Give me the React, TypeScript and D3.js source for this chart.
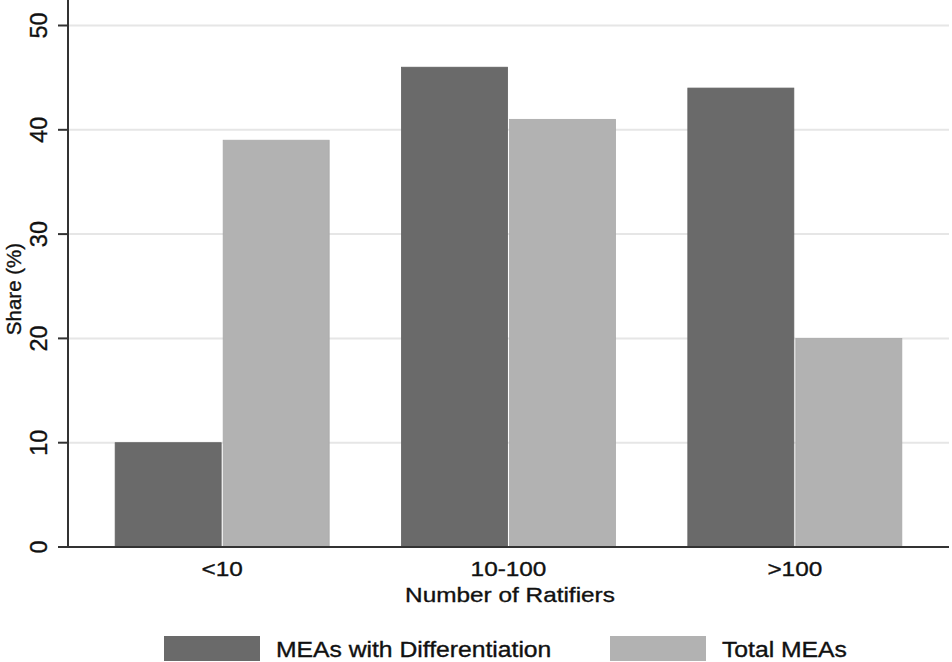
import React from "react";
import * as d3 from "d3";

const categories = ["<10", "10-100", ">100"];
const seriesNames = ["MEAs with Differentiation", "Total MEAs"];
const withDiff = [10, 46, 44];
const totalMEAs = [39, 41, 20];
const yTicks = [0, 10, 20, 30, 40, 50];
const colors = ["#6a6a6a", "#b2b2b2"];

const W = 952;
const H = 662;
const plot = { left: 68, right: 949, top: 25.5, bottom: 547 };
const FONT = "'Liberation Sans', Arial, Helvetica, sans-serif";
const SX = 1.16;
const TXT = "#111";
const TSTROKE = 0.35;

export default function App() {
  const x = d3
    .scaleBand<string>()
    .domain(categories)
    .range([plot.left + 11, plot.right - 11])
    .paddingInner(0)
    .paddingOuter(0);
  const y = d3.scaleLinear().domain([0, 50]).range([plot.bottom, plot.top]);
  const barW = 106;
  const gap = 2;
  const series = [withDiff, totalMEAs];

  const hText = (tx: number, ty: number, s: string, size: number, anchor: string, key?: string) => (
    <g key={key} transform={`translate(${tx},${ty}) scale(${SX},1)`}>
      <text
        x={0}
        y={0}
        fontSize={size}
        textAnchor={anchor}
        fill={TXT}
        stroke={TXT}
        strokeWidth={TSTROKE}
        fontFamily={FONT}
      >
        {s}
      </text>
    </g>
  );

  return (
    <svg
      width={W}
      height={H}
      style={{ position: "absolute", left: 0, top: 0, background: "#fff" }}
    >
      <rect x={0} y={0} width={W} height={H} fill="#fff" />
      {/* gridlines */}
      {yTicks.filter((t) => t > 0).map((t) => (
        <line
          key={"g" + t}
          x1={plot.left}
          x2={plot.right}
          y1={y(t)}
          y2={y(t)}
          stroke="#e6e6e6"
          strokeWidth={2}
        />
      ))}
      {/* bars */}
      {categories.map((c, i) => {
        const bw = x.bandwidth();
        const start = (x(c) as number) + (bw - (2 * barW + gap)) / 2;
        return series.map((s, j) => (
          <rect
            key={c + j}
            x={start + j * (barW + gap)}
            y={y(s[i])}
            width={barW}
            height={y(0) - y(s[i])}
            fill={colors[j]}
            stroke={j === 0 ? "#626262" : "#aaaaaa"}
            strokeWidth={0.8}
          />
        ));
      })}
      {/* axes */}
      <line x1={plot.left} x2={plot.left} y1={0} y2={plot.bottom + 1} stroke="#333" strokeWidth={2} />
      <line x1={plot.left - 1} x2={plot.right} y1={plot.bottom} y2={plot.bottom} stroke="#333" strokeWidth={2} />
      {yTicks.map((t) => (
        <g key={"t" + t}>
          <line x1={plot.left - 10} x2={plot.left} y1={y(t)} y2={y(t)} stroke="#333" strokeWidth={2} />
          <text
            transform={`translate(47,${y(t)}) rotate(-90)`}
            fontSize={23.5}
            textAnchor="middle"
            fill={TXT}
            stroke={TXT}
            strokeWidth={TSTROKE}
            fontFamily={FONT}
          >
            {t}
          </text>
        </g>
      ))}
      {categories.map((c) =>
        hText((x(c) as number) + x.bandwidth() / 2, 576, c, 21, "middle", "x" + c)
      )}
      {hText(510, 602, "Number of Ratifiers", 21, "middle")}
      <text
        transform={`translate(21,289) rotate(-90)`}
        fontSize={20.5}
        textAnchor="middle"
        fill={TXT}
        stroke={TXT}
        strokeWidth={TSTROKE}
        fontFamily={FONT}
      >
        Share (%)
      </text>
      {/* legend */}
      {seriesNames.map((n, j) => {
        const lx = j === 0 ? 164 : 610;
        return (
          <g key={"l" + j}>
            <rect x={lx} y={636} width={96} height={25} fill={colors[j]} />
            {hText(lx + 112, 657, n, 21.3, "start")}
          </g>
        );
      })}
    </svg>
  );
}
